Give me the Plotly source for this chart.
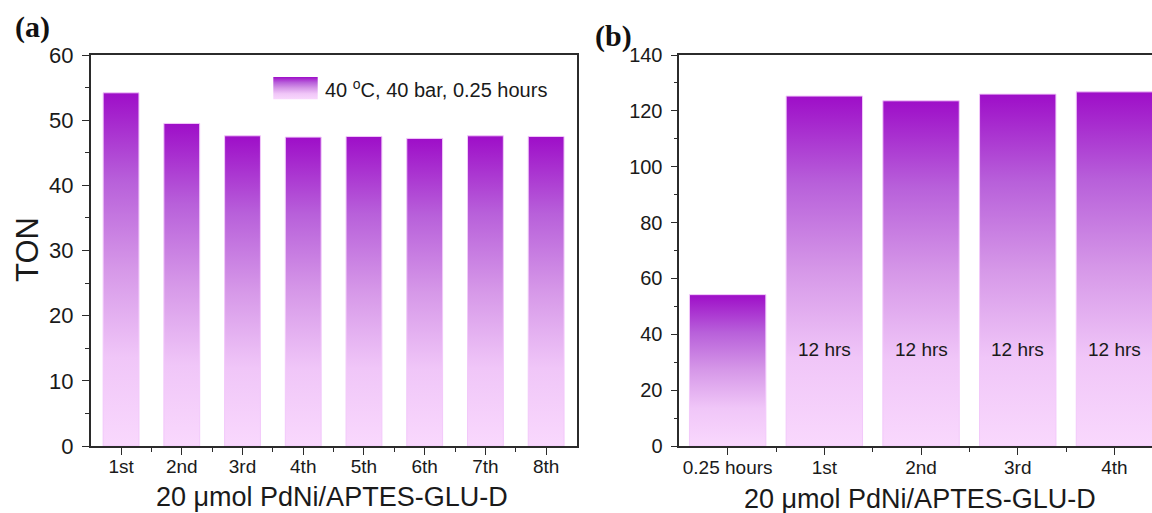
import numpy as np
import plotly.graph_objects as go

# ---- data -------------------------------------------------------------
cycles_a = ["1st", "2nd", "3rd", "4th", "5th", "6th", "7th", "8th"]
ton_a = [54.2, 49.5, 47.6, 47.4, 47.5, 47.2, 47.6, 47.5]

cats_b = ["0.25 hours", "1st", "2nd", "3rd", "4th"]
ton_b = [54.2, 125.3, 123.6, 126.0, 126.8]
notes_b = ["", "12 hrs", "12 hrs", "12 hrs", "12 hrs"]
note_level_b = 34.4

legend_text = "40 <sup>o</sup>C, 40 bar, 0.25 hours"
x_title = "20 \u03bcmol PdNi/APTES-GLU-D"
y_title = "TON"

# ---- styling ----------------------------------------------------------
W, H = 1152, 513
FONT = "Liberation Sans, Arial, sans-serif"
SERIF = "Liberation Serif, Times New Roman, serif"
AXIS_COLOR = "#2b2b2b"
TEXT_COLOR = "#1a1a1a"
EDGE = "rgba(242,200,250,1)"
GRAD = [
    [0.0, "rgb(249,216,253)"],
    [0.25, "rgb(240,198,248)"],
    [0.5, "rgb(214,152,232)"],
    [0.75, "rgb(184,96,218)"],
    [1.0, "rgb(158,14,200)"],
]

# pixel layout of the two panels
A_LEFT, A_RIGHT = 90.7, 576.5
B_LEFT = 679.3
TOP, BOTTOM = 55.0, 446.0
CAT_W_B = 96.7


def px_x(p):
    return p / W


def px_y(p):
    return 1 - p / H


fig = go.Figure()


def gradient_bar(i, v, width, xa, ya):
    x0, x1 = i - width / 2, i + width / 2
    return go.Scatter(
        x=[x0, x1, x1, x0, x0], y=[0, 0, v, v, 0],
        mode="lines", fill="toself",
        fillgradient=dict(type="vertical", colorscale=GRAD),
        line=dict(color=EDGE, width=1),
        hoverinfo="skip", showlegend=False,
        xaxis=xa, yaxis=ya,
    )


for i, v in enumerate(ton_a):
    fig.add_trace(gradient_bar(i, v, 0.59, "x", "y"))

for i, v in enumerate(ton_b):
    fig.add_trace(gradient_bar(i, v, 0.79, "x2", "y2"))

# legend swatch on a hidden pixel-space axis pair
sw_x0, sw_x1, sw_y0, sw_y1 = 273.3, 317.7, 77.0, 99.3
fig.add_trace(go.Scatter(
    x=[sw_x0, sw_x1, sw_x1, sw_x0, sw_x0], y=[sw_y1, sw_y1, sw_y0, sw_y0, sw_y1],
    mode="lines", fill="toself",
    fillgradient=dict(type="vertical", colorscale=GRAD),
    line=dict(width=0), hoverinfo="skip", showlegend=False,
    xaxis="x3", yaxis="y3",
))

n_a = len(cycles_a)
n_b = len(cats_b)
b_right_val = -0.5 + (W - B_LEFT) / CAT_W_B


def axis(**kw):
    base = dict(
        showline=True, linecolor=AXIS_COLOR, linewidth=1.6,
        ticks="outside", tickcolor=AXIS_COLOR, tickwidth=1.4, ticklen=7,
        showgrid=False, zeroline=False, automargin=False,
    )
    base.update(kw)
    return base


minor_style = dict(ticks="outside", ticklen=4, tickcolor=AXIS_COLOR, tickwidth=1.4)

fig.update_layout(
    width=W, height=H,
    margin=dict(l=0, r=0, t=0, b=0, autoexpand=False),
    paper_bgcolor="white", plot_bgcolor="rgba(0,0,0,0)",
    showlegend=False,
    xaxis=axis(
        domain=[px_x(A_LEFT), px_x(A_RIGHT)],
        range=[-0.5, n_a - 0.5], mirror=True,
        tickmode="array", tickvals=list(range(n_a)), ticktext=cycles_a,
        minor=dict(tickvals=list(np.arange(n_a - 1) + 0.5), **minor_style),
        tickfont=dict(family=FONT, size=19, color=TEXT_COLOR),
        anchor="y", ticklabelstandoff=-5,
    ),
    yaxis=axis(
        domain=[px_y(BOTTOM), px_y(TOP)],
        range=[0, 60], mirror=True,
        tickmode="linear", tick0=0, dtick=10,
        minor=dict(dtick=5, **minor_style),
        tickfont=dict(family=FONT, size=22, color=TEXT_COLOR),
        anchor="x", ticklabelstandoff=4,
    ),
    xaxis2=axis(
        domain=[px_x(B_LEFT), 1.0],
        range=[-0.5, b_right_val], mirror=True,
        tickmode="array", tickvals=list(range(n_b)), ticktext=cats_b,
        minor=dict(tickvals=list(np.arange(n_b) + 0.5), **minor_style),
        tickfont=dict(family=FONT, size=19, color=TEXT_COLOR),
        anchor="y2", ticklabelstandoff=-4,
    ),
    yaxis2=axis(
        domain=[px_y(BOTTOM), px_y(TOP)],
        range=[0, 140],
        tickmode="linear", tick0=0, dtick=20,
        minor=dict(dtick=10, **minor_style),
        tickfont=dict(family=FONT, size=20, color=TEXT_COLOR),
        anchor="x2", ticklabelstandoff=4,
    ),
    xaxis3=dict(domain=[0, 1], range=[0, W], visible=False, anchor="y3",
                automargin=False),
    yaxis3=dict(domain=[0, 1], range=[H, 0], visible=False, anchor="x3",
                automargin=False),
)

annotations = []
for i, t in enumerate(notes_b):
    if t:
        annotations.append(dict(
            x=i, y=note_level_b, xref="x2", yref="y2", text=t,
            xanchor="center", yanchor="middle", showarrow=False,
            font=dict(family=FONT, size=19, color=TEXT_COLOR),
        ))


def paper_text(x, y, text, size, family=FONT, anchor="center", angle=0,
               color=TEXT_COLOR):
    return dict(x=px_x(x), y=px_y(y), xref="paper", yref="paper", text=text,
                xanchor=anchor, yanchor="middle", showarrow=False,
                textangle=angle, font=dict(family=family, size=size, color=color))


annotations += [
    paper_text(322.7, 88, legend_text, 20, anchor="left"),
    paper_text(331.5, 497, x_title, 27),
    paper_text(920, 499, x_title, 27),
    paper_text(27, 250, y_title, 31, angle=-90),
    paper_text(32, 27, "<b>(a)</b>", 30, family=SERIF, color="#111111"),
    paper_text(613, 36, "<b>(b)</b>", 30, family=SERIF, color="#111111"),
]
fig.update_layout(annotations=annotations)

fig.write_html("out.html")
